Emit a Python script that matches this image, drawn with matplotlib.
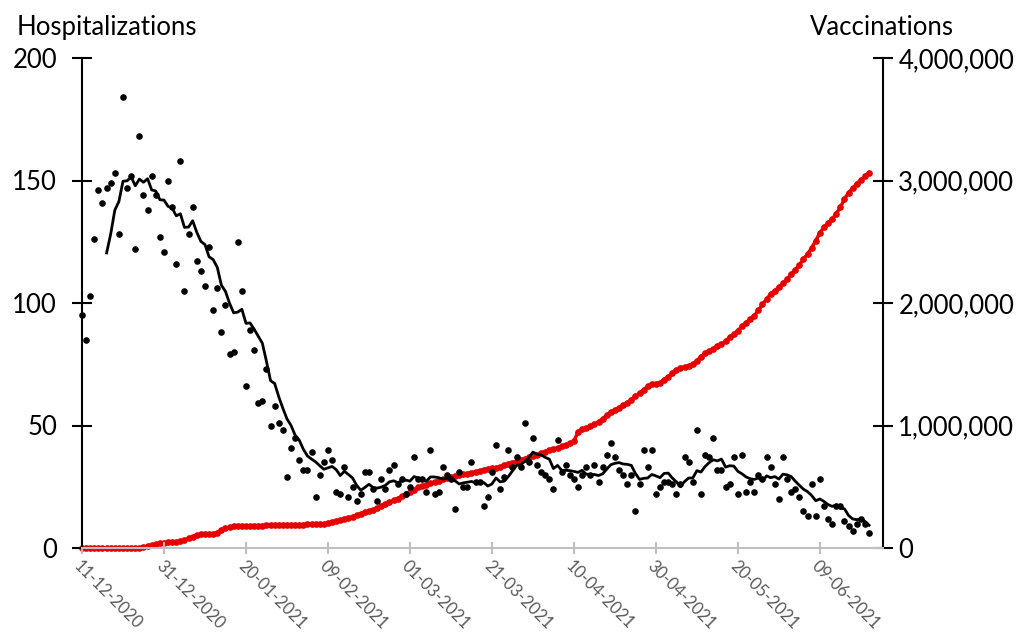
import numpy as np
import pandas as pd
import matplotlib
matplotlib.use('Agg')
import matplotlib.pyplot as plt
from matplotlib.ticker import FuncFormatter

plt.rcParams['font.family'] = ['Lato', 'DejaVu Sans']

# daily data starting 11-12-2020
start_date = '2020-12-11'

# hospitalizations per day
hosp = [95, 85, 103, 126, 146, 141, 147, 149, 153, 128,
        184, 147, 152, 122, 168, 144, 138, 152, 144, 127,
        121, 150, 139, 116, 158, 105, 128, 139, 117, 113,
        107, 123, 97, 106, 88, 99, 79, 80, 125, 105,
        66, 89, 81, 59, 60, 73, 50, 58, 51, 48,
        29, 41, 45, 36, 32, 32, 39, 21, 30, 35,
        40, 36, 23, 22, 33, 21, 25, 19, 22, 31,
        31, 24, 19, 28, 24, 32, 34, 26, 28, 22,
        25, 37, 28, 28, 23, 40, 22, 23, 33, 30,
        28, 16, 31, 25, 25, 35, 27, 27, 17, 21,
        31, 42, 24, 29, 40, 33, 37, 33, 51, 35,
        45, 34, 31, 30, 28, 24, 44, 31, 34, 30,
        28, 25, 30, 33, 30, 34, 27, 33, 38, 43,
        37, 32, 30, 26, 30, 15, 26, 40, 33, 40,
        22, 25, 27, 27, 26, 22, 26, 37, 35, 27,
        48, 22, 38, 37, 45, 32, 32, 25, 26, 37,
        22, 38, 23, 27, 23, 30, 28, 37, 33, 26,
        20, 37, 28, 23, 24, 21, 15, 13, 26, 13,
        28, 17, 12, 10, 17, 17, 11, 9, 7, 10,
        12, 10, 6]

# cumulative vaccinations, thousands
vacc_k = [0, 0, 0, 0, 0, 0, 0, 0, 0, 0,
          0, 0, 0, 0, 0, 8, 15, 22, 30, 37,
          42, 45, 48, 51, 56, 66, 78, 92, 105, 111,
          113, 114, 116, 125, 145, 160, 170, 176, 179, 180,
          181, 181, 182, 182, 183, 184, 184, 185, 186, 187,
          187, 188, 189, 190, 191, 192, 193, 194, 196, 198,
          201, 209, 218, 228, 237, 247, 257, 267, 279, 290,
          301, 313, 325, 340, 356, 372, 388, 404, 422, 440,
          458, 476, 494, 507, 518, 529, 540, 551, 560, 568,
          577, 585, 594, 601, 608, 615, 622, 630, 637, 643,
          650, 656, 664, 675, 686, 697, 708, 719, 730, 741,
          752, 763, 774, 785, 796, 807, 818, 830, 843, 856,
          870, 950, 968, 982, 995, 1010, 1030, 1055, 1085, 1110,
          1125, 1145, 1165, 1185, 1210, 1240, 1265, 1290, 1320, 1335,
          1342, 1350, 1375, 1400, 1425, 1450, 1470, 1480, 1488, 1500,
          1530, 1560, 1590, 1610, 1625, 1645, 1665, 1690, 1720, 1745,
          1775, 1810, 1840, 1870, 1895, 1940, 1990, 2030, 2075, 2100,
          2130, 2160, 2195, 2235, 2270, 2310, 2360, 2400, 2450, 2510,
          2570, 2620, 2650, 2685, 2730, 2780, 2850, 2900, 2935, 2975,
          3005, 3035, 3065]

dates = pd.date_range(start_date, periods=len(hosp), freq='D')
vacc = np.array(vacc_k) * 1000
hosp_avg = pd.Series(hosp).rolling(7).mean()

fig = plt.figure(figsize=(10.32, 6.32), dpi=100)
ax = fig.add_axes([82/1032, 1-548/632, (883-82)/1032, (548-58)/632])
ax2 = ax.twinx()
ax.set_zorder(ax2.get_zorder() + 1)
ax.patch.set_visible(False)

ax2.plot(dates, vacc, color='#e60000', lw=2.5, marker='o', ms=3.8, clip_on=False)
ax.scatter(dates, hosp, s=14, color='black', zorder=3, clip_on=False)
ax.plot(dates, hosp_avg, color='black', lw=2)

ax.set_xlim(dates[0], dates[0] + pd.Timedelta(days=195.4))
ax.set_ylim(0, 200)
ax.set_yticks([0, 50, 100, 150, 200])
ax2.set_ylim(0, 4000000)
ax2.set_yticks([0, 1000000, 2000000, 3000000, 4000000])
ax2.yaxis.set_major_formatter(FuncFormatter(lambda v, p: f'{v:,.0f}'))

ticks = dates[::20]
ax.set_xticks(ticks)
ax.set_xticklabels([d.strftime('%d-%m-%Y') for d in ticks], rotation=-45,
                   ha='left', va='top', rotation_mode='anchor')

for s in ['top', 'right']:
    ax.spines[s].set_visible(False)
for s in ['top', 'left', 'bottom']:
    ax2.spines[s].set_visible(False)
ax.spines['left'].set_linewidth(1.5)
ax.spines['bottom'].set_color('#bfbfbf')
ax.spines['bottom'].set_linewidth(1.5)
ax2.spines['right'].set_linewidth(1.5)

ax.tick_params(axis='y', direction='inout', length=14, width=1.5, labelsize=18.5, pad=11)
ax2.tick_params(axis='y', direction='inout', length=14, width=1.5, labelsize=18.5, pad=4)
ax.tick_params(axis='x', direction='inout', length=8, width=1.5, color='#bfbfbf',
               labelcolor='#595959', labelsize=12, pad=3)

fig.text(17/1032, 1-35/632, 'Hospitalizations', fontsize=18.5, ha='left', va='baseline')
fig.text(882/1032, 1-35/632, 'Vaccinations', fontsize=18.5, ha='center', va='baseline')

fig.savefig('out.png', dpi=100)
